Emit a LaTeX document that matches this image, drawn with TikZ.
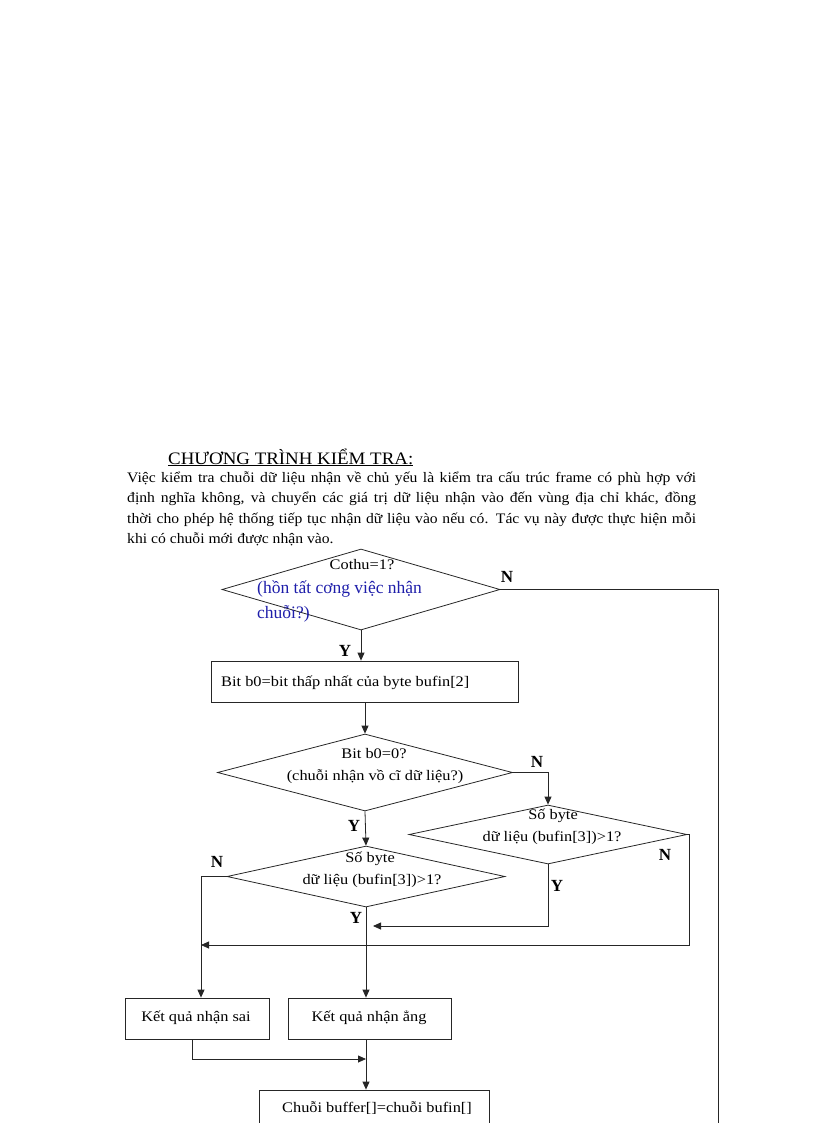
\documentclass[tikz,border=0pt]{standalone}
\usepackage{fontspec}
\setmainfont{Liberation Serif}
\newfontfamily\wideserif[FakeStretch=1.12]{Liberation Serif}
\newfontfamily\bodyserif[FakeStretch=1.08]{Liberation Serif}
\usetikzlibrary{shapes.geometric,arrows.meta}
\definecolor{bluetxt}{RGB}{30,30,170}
\tikzset{
  line/.style={draw=black!85, line width=0.8pt},
  arr/.style={line, -{Triangle[length=8pt,width=7pt]}},
  box/.style={rectangle, line, inner sep=0pt},
  lbl/.style={font=\fontsize{17}{19}\selectfont\bfseries, inner sep=0pt},
  dtext/.style={font=\wideserif\fontsize{14.6}{16}\selectfont, inner sep=0pt, yshift=-2pt},
  body/.style={font=\bodyserif\fontsize{14.5}{16}\selectfont, inner sep=0pt, anchor=base west},
}
\begin{document}
\begin{tikzpicture}[x=1pt,y=-1pt]
\useasboundingbox (0,0) rectangle (816,1123);
\clip (0,0) rectangle (816,1123);
% title and paragraph
\node[font=\bodyserif\fontsize{17.5}{19}\selectfont, inner sep=0pt, anchor=base west] (title) at (168,464) {\underline{CHƯƠNG TRÌNH KIỂM TRA:}};
\node[body] (p1) at (127,482) {\makebox[569pt][s]{Việc kiểm tra chuỗi dữ liệu nhận về chủ yếu là kiểm tra cấu trúc frame có phù hợp với}};
\node[body] (p2) at (127,502) {\makebox[569pt][s]{định nghĩa không, và chuyển các giá trị dữ liệu nhận vào đến vùng địa chỉ khác, đồng}};
\node[body] (p3) at (127,523) {\makebox[569pt][s]{thời cho phép hệ thống tiếp tục nhận dữ liệu vào nếu có. Tác vụ này được thực hiện mỗi}};
\node[body] (p4) at (127,543) {khi có chuỗi mới được nhận vào.};

% shapes
\node[diamond, line, inner sep=0pt, minimum width=278pt, minimum height=81pt] (d1) at (361,589.5) {};
\node[box, minimum width=307pt, minimum height=41pt] (b1) at (364.5,681.5) {};
\node[diamond, line, inner sep=0pt, minimum width=295pt, minimum height=77pt] (d2) at (365,772.5) {};
\node[diamond, line, inner sep=0pt, minimum width=278pt, minimum height=59pt] (d3) at (548,834.5) {};
\node[diamond, line, inner sep=0pt, minimum width=278pt, minimum height=61pt] (d4) at (366,876.5) {};
\node[box, minimum width=144pt, minimum height=41pt] (sai) at (197,1018.5) {};
\node[box, minimum width=163pt, minimum height=41pt] (dung) at (369.5,1018.5) {};
\node[box, minimum width=230pt, minimum height=50pt] (buf) at (374,1115) {};

% texts
\node[dtext] (t1) at (362,563) {Cothu=1?};
\node[font=\fontsize{17.5}{19}\selectfont, text=bluetxt, inner sep=0pt, anchor=base west] (t1b) at (257,593) {(hồn tất cơng việc nhận};
\node[font=\fontsize{17.5}{19}\selectfont, text=bluetxt, inner sep=0pt, anchor=base west] (t1c) at (257,618) {chuỗi?)};
\node[dtext, anchor=west] (tb1) at (221,681) {Bit b0=bit thấp nhất của byte bufin[2]};
\node[dtext] (t2a) at (374,752) {Bit b0=0?};
\node[dtext] (t2b) at (375,775) {(chuỗi nhận vồ cĩ dữ liệu?)};
\node[dtext] (t3a) at (553,814) {Số byte};
\node[dtext] (t3b) at (552,836) {dữ liệu (bufin[3])>1?};
\node[dtext] (t4a) at (370,857) {Số byte};
\node[dtext] (t4b) at (372,879) {dữ liệu (bufin[3])>1?};
\node[dtext] (tsai) at (196,1016) {Kết quả nhận sai};
\node[dtext] (tdung) at (369,1016) {Kết quả nhận ẳng};
\node[dtext] (tbuf) at (377,1106) {Chuỗi buffer[]=chuỗi bufin[]};

% labels
\node[lbl] (n1) at (507,577) {N};
\node[lbl] (y1) at (345,651) {Y};
\node[lbl] (n2) at (537,762) {N};
\node[lbl] (y2) at (354,826) {Y};
\node[lbl] (n3) at (665,855) {N};
\node[lbl] (y3) at (557,886) {Y};
\node[lbl] (n4) at (217,862) {N};
\node[lbl] (y4) at (356,918) {Y};

% connectors
\coordinate (far) at (718,1130);
\draw[line] (d1.east) -| (far);
\draw[arr] (d1.south) -- (d1.south |- b1.north);
\draw[arr] (b1.south -| d2.north) -- (d2.north);
\draw[arr] (d2.east) -| (d3.north);
\draw[arr] (d2.south) -- (d4.north);
\coordinate (lx) at (201,945);
\draw[arr] (d3.east) -- ++(2,0) |- (lx);
\coordinate (j2) at (373,926);
\draw[arr] (d3.south) |- (j2);
\draw[arr] (d4.west) -| (sai.north -| lx);
\draw[arr] (d4.south) -- (d4.south |- dung.north);
\coordinate (j3) at (366,1059);
\draw[arr] (sai.south -| 192,0) |- (j3);
\draw[arr] (dung.south -| j3) -- (j3 |- buf.north);
\end{tikzpicture}
\end{document}
